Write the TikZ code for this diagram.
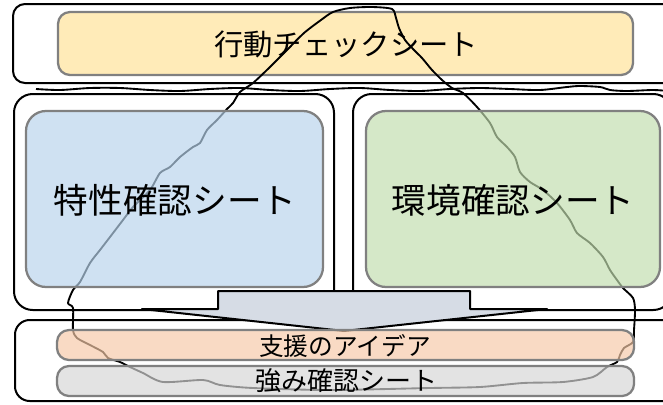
\documentclass[tikz,border=0pt]{standalone}
\usepackage{fontspec}
\newfontfamily\jpfont{Noto Sans CJK JP}
\definecolor{yellowc}{RGB}{255,235,184}
\definecolor{bluec}{RGB}{184,211,236}
\definecolor{greenc}{RGB}{193,221,174}
\definecolor{orangec}{RGB}{246,201,168}
\definecolor{grayc}{RGB}{214,214,214}
\definecolor{arrowc}{RGB}{214,220,229}
\definecolor{borderc}{RGB}{128,128,128}
\begin{document}
\begin{tikzpicture}[x=0.75pt,y=-0.75pt,
  outerbox/.style={draw=black, line width=1.5pt},
  innerbox/.style={draw=borderc, line width=1.7pt},
  seethru/.style={innerbox, fill opacity=0.68, draw opacity=1},
  scribble/.style={draw=black, line width=1.4pt, line join=round},
  label/.style={font=\jpfont, text=black, inner sep=0pt}]
\useasboundingbox (0,0) rectangle (663,404);
\clip (0,0) rectangle (663,404);
% outer frames
\draw[outerbox, rounded corners=9pt] (13,4) rectangle (690,83);
\draw[innerbox, fill=yellowc, rounded corners=9pt] (58,12) rectangle (633,75);
\draw[outerbox, rounded corners=14pt] (14,94) rectangle (334,310);
\draw[outerbox, rounded corners=14pt] (353,94) rectangle (672,310);
\draw[outerbox, rounded corners=11pt] (15,320) rectangle (690,401);
% wavy stroke
\draw[scribble] plot[smooth, tension=0.5] coordinates {(36,89) (60,90) (90,88) (120,88) (150,90) (180,91) (210,89) (240,88) (270,90) (300,91) (330,89) (360,88) (390,90) (420,91) (450,89) (480,88) (510,89) (540,90) (567,87) (580,86) (600,87) (610,90) (627,91) (653,90) (668,91)};
% freehand loop
\draw[scribble] plot[smooth cycle, tension=0.45] coordinates {
 (350,8) (372,7) (392,9) (396,18) (399,28) (405,40) (414,50) (422,58) (432,70) (442,80) (452,88) (463,93)
 (477,107) (490,123) (497,137) (507,147) (515,157) (520,172) (530,182) (543,190) (557,203) (570,220)
 (577,233) (590,243) (603,257) (610,270) (617,280) (623,288) (633,298) (635,310) (634,330) (633,342)
 (624,348) (620,355) (617,362) (607,367) (593,377) (563,382) (523,383) (480,387) (430,388) (330,390)
 (253,388) (220,385) (203,380) (163,382) (143,373) (130,367) (120,362) (108,358) (103,352) (90,345)
 (77,338) (73,330) (73,308) (68,303) (73,290) (80,282) (90,263) (100,250) (110,237) (123,220) (133,207)
 (150,190) (160,173) (170,167) (180,157) (193,147) (200,143) (207,130) (217,120) (227,109) (233,103)
 (240,92) (253,83) (270,67) (287,50) (304,33) (321,20) (333,12)};
% block arrow
\draw[outerbox, fill=arrowc, line join=round] (218,291) -- (470,291) -- (470,309) -- (547,309) -- (344,331) -- (142,309) -- (218,309) -- cycle;
% see-through boxes
\draw[seethru, fill=bluec, rounded corners=15pt] (26,111) rectangle (323,287);
\draw[seethru, fill=greenc, rounded corners=15pt] (366,111) rectangle (660,287);
\draw[seethru, fill=orangec, rounded corners=9pt] (57,330) rectangle (634,360);
\draw[seethru, fill=grayc, rounded corners=9pt] (57,366) rectangle (634,396);
% labels
\node[label, font=\jpfont\fontsize{22pt}{24pt}\selectfont] (act) at (346,44) {行動チェックシート};
\node[label, font=\jpfont\fontsize{26pt}{28pt}\selectfont] (trait) at (175,200) {特性確認シート};
\node[label, font=\jpfont\fontsize{26pt}{28pt}\selectfont] (env) at (513,200) {環境確認シート};
\node[label, font=\jpfont\fontsize{18.5pt}{20pt}\selectfont] (idea) at (345,346) {支援のアイデア};
\node[label, font=\jpfont\fontsize{19.5pt}{21pt}\selectfont] (str) at (346,381) {強み確認シート};
\end{tikzpicture}
\end{document}
